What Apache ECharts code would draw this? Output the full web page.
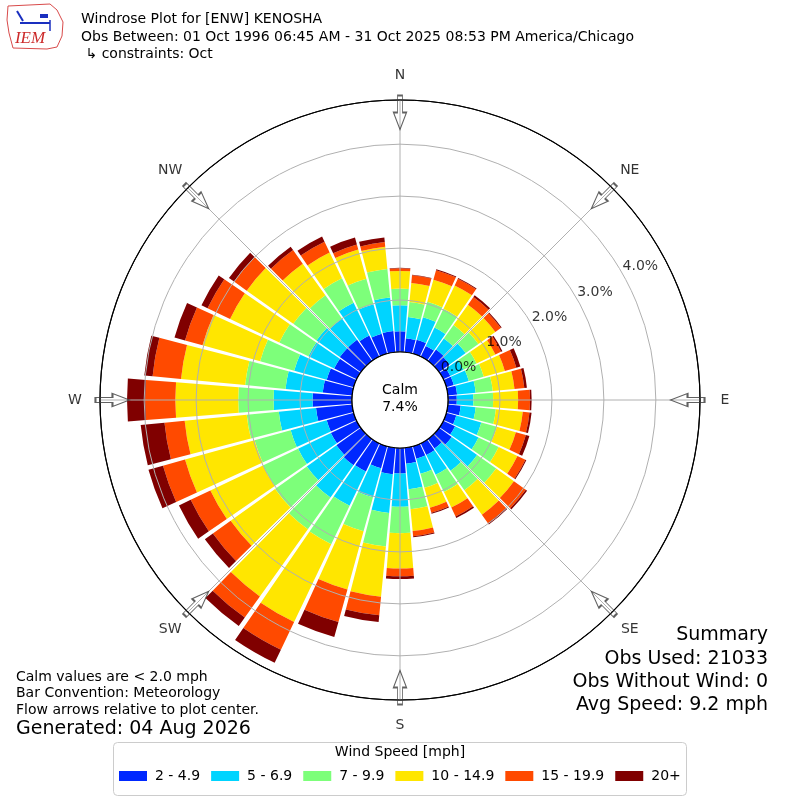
<!DOCTYPE html>
<html><head><meta charset="utf-8">
<script src="https://cdn.jsdelivr.net/npm/echarts@6/dist/echarts.min.js"></script>
<style>html,body{margin:0;padding:0;background:#fff}#c{width:800px;height:800px}</style>
</head><body><div id="c"></div>
<script>
// ---- data (percent of observations) ----
const directions = [0,10,20,30,40,50,60,70,80,90,100,110,120,130,140,150,160,170,180,190,200,210,220,230,240,250,260,270,280,290,300,310,320,330,340,350];
const speedBins = ['2 - 4.9','5 - 6.9','7 - 9.9','10 - 14.9','15 - 19.9','20+'];
const bin2to5   = [0.40,0.27,0.28,0.23,0.27,0.25,0.15,0.15,0.18,0.17,0.25,0.20,0.25,0.30,0.22,0.25,0.25,0.31,0.49,0.51,0.44,0.60,0.62,0.58,0.55,0.54,0.70,0.76,0.57,0.54,0.48,0.50,0.50,0.45,0.40,0.41];
const bin5to7   = [0.50,0.41,0.45,0.39,0.26,0.38,0.28,0.30,0.36,0.32,0.29,0.50,0.50,0.60,0.53,0.42,0.30,0.49,0.64,0.75,0.58,0.73,0.76,0.70,0.70,0.72,0.72,0.75,0.72,0.65,0.55,0.55,0.50,0.70,0.59,0.65];
const bin7to10  = [0.32,0.29,0.31,0.40,0.32,0.30,0.28,0.30,0.33,0.38,0.39,0.31,0.43,0.45,0.46,0.37,0.28,0.39,0.51,0.65,0.68,0.82,0.75,0.75,0.75,0.72,0.62,0.68,0.78,0.68,0.62,0.55,0.55,0.52,0.51,0.55];
const bin10to15 = [0.34,0.37,0.44,0.50,0.48,0.40,0.40,0.42,0.42,0.48,0.52,0.38,0.40,0.42,0.58,0.33,0.40,0.42,0.68,0.97,1.16,1.66,1.59,1.05,1.12,1.39,1.20,1.21,1.24,1.15,1.05,1.10,0.75,0.55,0.58,0.43];
const bin15to20 = [0.05,0.15,0.19,0.14,0.18,0.13,0.12,0.23,0.19,0.23,0.13,0.20,0.17,0.28,0.20,0.19,0.10,0.10,0.15,0.36,0.65,0.59,0.50,0.42,0.42,0.44,0.39,0.58,0.55,0.35,0.48,0.30,0.32,0.23,0.10,0.09];
const bin20plus = [0.01,0.01,0.02,0.02,0.04,0.02,0.03,0.08,0.05,0.03,0.04,0.07,0.02,0.03,0.03,0.03,0.02,0.02,0.05,0.13,0.30,0.28,0.20,0.19,0.25,0.29,0.46,0.35,0.16,0.21,0.13,0.12,0.08,0.11,0.14,0.09];
const compassNames = ['N','NE','E','SE','S','SW','W','NW'];
const compassBearings = [0,45,90,135,180,225,270,315];
const radialTicks = [0,1,2,3,4];
const radialTickLabels = ['0.0%','1.0%','2.0%','3.0%','4.0%'];
const calmPercent = '7.4%';
const titleLines = ['Windrose Plot for [ENW] KENOSHA','Obs Between: 01 Oct 1996 06:45 AM - 31 Oct 2025 08:53 PM America/Chicago',' \u21b3 constraints: Oct'];
const noteLines = ['Calm values are < 2.0 mph','Bar Convention: Meteorology','Flow arrows relative to plot center.'];
const generatedText = 'Generated: 04 Aug 2026';
const summaryLines = ['Summary','Obs Used: 21033','Obs Without Wind: 0','Avg Speed: 9.2 mph'];

// ---- styles ----
const binData = [bin2to5,bin5to7,bin7to10,bin10to15,bin15to20,bin20plus];
const binColors = ['#0028ff','#00d4ff','#7dff7a','#ffe600','#ff4a00','#800000'];
const FONT = 'DejaVu Sans';
const RMAX = 4.85;
const CX = 400, CY = 400;
const rad = d => d*Math.PI/180;

const chart = echarts.init(document.getElementById('c'), null, {renderer:'canvas'});

const barSeries = binData.map((d,i)=>({
  name: speedBins[i], type:'bar', coordinateSystem:'polar', polarIndex:0,
  stack:'wind', data:d, barCategoryGap:'10%', itemStyle:{color:binColors[i]},
  silent:true, z:2
}));

const arrowPath = 'path://M4,0 L9,0 L9,18 L13,18 L6.5,36 L0,18 L4,18 Z';

const gridColors = radialTicks.map(()=>'#b0b0b0').concat(['#000000']);

const option = {
  animation:false,
  polar:[{center:[CX,CY], radius:[48,300]},{center:[CX,CY], radius:[48,300]}],
  angleAxis:[
    {polarIndex:0, type:'category', data:directions.map(String), startAngle:95, clockwise:true, boundaryGap:true,
     axisLine:{show:false}, axisTick:{show:false}, axisLabel:{show:false}, splitLine:{show:false}},
    {polarIndex:1, type:'value', min:0, max:360, interval:45, startAngle:90, clockwise:true, z:10,
     axisLine:{show:true, lineStyle:{color:'#000', width:1.2}}, axisTick:{show:false}, axisLabel:{show:false},
     splitLine:{show:true, lineStyle:{color:'#b0b0b0', width:1}}}
  ],
  radiusAxis:[
    {polarIndex:0, type:'value', min:0, max:RMAX, axisLine:{show:false}, axisTick:{show:false}, axisLabel:{show:false}, splitLine:{show:false}},
    {polarIndex:1, type:'value', min:0, max:RMAX, interval:1, z:10, axisLine:{show:false}, axisTick:{show:false}, axisLabel:{show:false},
     splitLine:{show:true, lineStyle:{color:gridColors, width:1}}}
  ],
  legend:{
    data:speedBins, left:119, top:769, orient:'horizontal', padding:0, itemGap:11,
    itemWidth:28, itemHeight:10, icon:'rect', selectedMode:false,
    textStyle:{fontFamily:FONT, fontSize:14, color:'#000', padding:[0,0,0,3]}
  },
  series: barSeries.concat([
    {type:'scatter', coordinateSystem:'polar', polarIndex:1, clip:false, silent:true, z:20,
     symbol:arrowPath, symbolSize:[13,34], symbolKeepAspect:false,
     itemStyle:{color:'rgba(255,255,255,0)', borderColor:'#3a3a3a', borderWidth:1.3},
     data: compassBearings.map(b=>({value:[4.61,b], symbolRotate:-b}))},
    {type:'scatter', coordinateSystem:'polar', polarIndex:1, clip:false, silent:true, z:21,
     symbolSize:1, itemStyle:{color:'rgba(0,0,0,0)'},
     data: compassBearings.map((b,i)=>({value:[RMAX,b], name:compassNames[i],
        label:{show:true, position:'inside', formatter:compassNames[i], offset:[25*Math.sin(rad(b)), -25*Math.cos(rad(b))],
        fontFamily:FONT, fontSize:14, color:'#000'}}))},
    {type:'scatter', coordinateSystem:'polar', polarIndex:1, clip:false, silent:true, z:21,
     symbolSize:1, itemStyle:{color:'rgba(0,0,0,0)'},
     data: radialTicks.map((t,i)=>({value:[t,61],
        label:{show:true, position:'inside', formatter:radialTickLabels[i], offset:[19*Math.sin(rad(61)), -19*Math.cos(rad(61))],
        fontFamily:FONT, fontSize:14, color:'#000'}}))}
  ]),
  graphic:[
    // legend frame
    {type:'rect', z:0, shape:{x:113.5, y:742.5, width:573, height:53, r:4}, style:{fill:'#fff', stroke:'#cccccc', lineWidth:1}},
    {type:'text', z:5, style:{text:'Wind Speed [mph]', x:400, y:752, font:'14px '+FONT, fill:'#000', textAlign:'center', textVerticalAlign:'middle', align:'center', verticalAlign:'middle'}},
    // calm circle
    {type:'circle', z:100, shape:{cx:CX, cy:CY, r:48}, style:{fill:'#fff', stroke:'#000', lineWidth:1.2}},
    {type:'text', z:101, style:{text:'Calm\n'+calmPercent, x:CX, y:CY-1, font:'14px '+FONT, lineHeight:17, fill:'#000', textAlign:'center', textVerticalAlign:'middle', align:'center', verticalAlign:'middle'}},
    // title
    ...titleLines.map((t,i)=>({type:'text', z:5, style:{text:t, x:81, y:[19,37,54][i], font:'14px '+FONT, fill:'#000', textAlign:'left', textVerticalAlign:'middle', align:'left', verticalAlign:'middle'}})),
    // notes
    ...noteLines.map((t,i)=>({type:'text', z:5, style:{text:t, x:16, y:[677,693,710][i], font:'14px '+FONT, fill:'#000', textAlign:'left', textVerticalAlign:'middle', align:'left', verticalAlign:'middle'}})),
    {type:'text', z:5, style:{text:generatedText, x:16, y:729, font:'19px '+FONT, fill:'#000', textAlign:'left', textVerticalAlign:'middle', align:'left', verticalAlign:'middle'}},
    ...summaryLines.map((t,i)=>({type:'text', z:5, style:{text:t, x:768, y:[635,659,682,705][i], font:'19px '+FONT, fill:'#000', textAlign:'right', textVerticalAlign:'middle', align:'right', verticalAlign:'middle'}})),
    // IEM logo
    {type:'polygon', z:5, shape:{points:[[8,6],[50,4],[57,10],[63,22],[62,36],[57,47],[47,49],[13,48],[9,33],[7,20]]}, style:{fill:'none', stroke:'#d84a4a', lineWidth:1}},
    {type:'polyline', z:5, shape:{points:[[20,23],[50,23]]}, style:{stroke:'#1a2fbf', lineWidth:2}},
    {type:'polyline', z:5, shape:{points:[[17,11],[23,21]]}, style:{stroke:'#1a2fbf', lineWidth:2}},
    {type:'polyline', z:5, shape:{points:[[50,20],[50,31]]}, style:{stroke:'#1a2fbf', lineWidth:1.5}},
    {type:'rect', z:5, shape:{x:40, y:14, width:8, height:4}, style:{fill:'#1a2fbf'}},
    {type:'text', z:5, style:{text:'IEM', x:30, y:39, font:'italic 17px "Liberation Serif"', fill:'#cc2a2a', textAlign:'center', textVerticalAlign:'middle', align:'center', verticalAlign:'middle'}}
  ]
};
chart.setOption(option);
</script></body></html>
